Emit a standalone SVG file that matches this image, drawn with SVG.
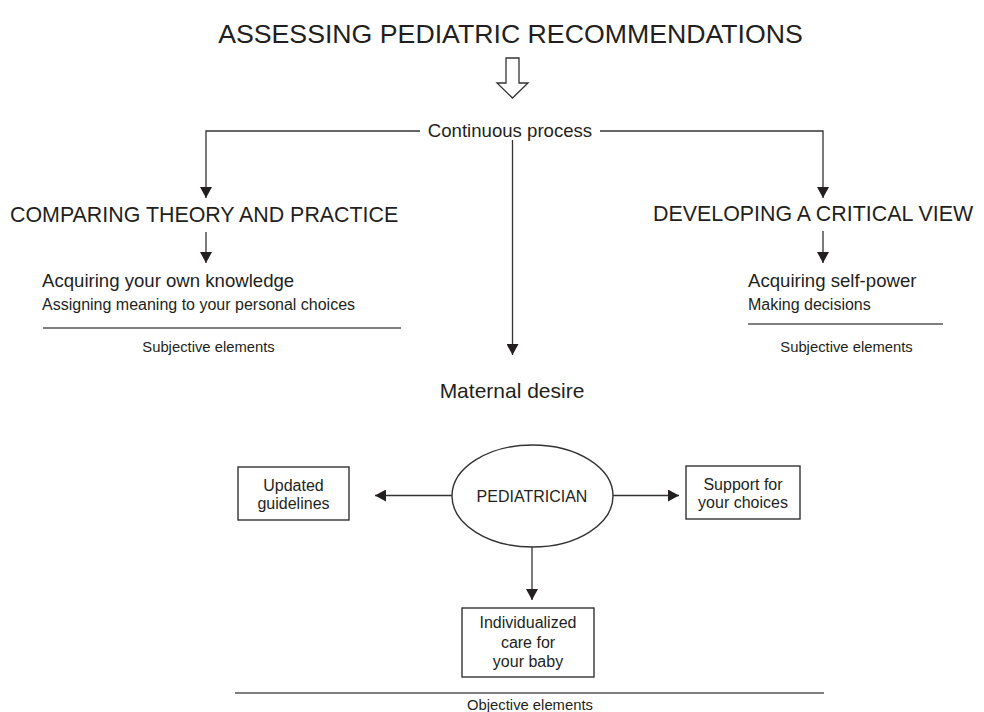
<svg xmlns="http://www.w3.org/2000/svg" width="984" height="712" viewBox="0 0 984 712">
<defs>
<style>
text{font-family:"Liberation Sans",Arial,Helvetica,sans-serif;fill:#231f20;}
.c{text-anchor:middle;}
.h1{font-size:26.7px;}
.h2{font-size:21.4px;}
.h3{font-size:18.6px;}
.t16{font-size:16px;}
.t15{font-size:14.8px;}
.ln{stroke:#333;stroke-width:1.3;fill:none;}
.sep{stroke:#555;stroke-width:1.6;fill:none;}
.box{stroke:#333;stroke-width:1.4;fill:#fff;}
</style>
<marker id="ah" markerUnits="userSpaceOnUse" markerWidth="12" markerHeight="12" refX="11" refY="6" orient="auto">
<path d="M0,0 L11,6 L0,12 z" fill="#231f20"/>
</marker>
</defs>
<rect width="984" height="712" fill="#fff"/>

<g id="title">
<text class="h1 c" x="510.5" y="43">ASSESSING PEDIATRIC RECOMMENDATIONS</text>
<polygon points="506,58 519,58 519,83 528,83 512.5,98 497,83 506,83" fill="#fff" stroke="#333" stroke-width="1.3"/>
</g>

<g id="continuous">
<text class="h3 c" x="510" y="137">Continuous process</text>
</g>

<g id="connectors">
<path class="ln" d="M420,131 H206 V198" marker-end="url(#ah)"/>
<path class="ln" d="M600,131 H823 V198" marker-end="url(#ah)"/>
<path class="ln" d="M512.5,140 V355" marker-end="url(#ah)"/>
<path class="ln" d="M206,232 V263" marker-end="url(#ah)"/>
<path class="ln" d="M823,231 V263" marker-end="url(#ah)"/>
<path class="ln" d="M452,495.5 H375" marker-end="url(#ah)"/>
<path class="ln" d="M613,495.5 H679" marker-end="url(#ah)"/>
<path class="ln" d="M532,547 V600" marker-end="url(#ah)"/>
</g>

<g id="left-branch">
<text class="h2" x="10" y="222">COMPARING THEORY AND PRACTICE</text>
<text class="h3" x="42" y="287">Acquiring your own knowledge</text>
<text class="t16" x="42" y="310">Assigning meaning to your personal choices</text>
<line class="sep" x1="43" y1="328" x2="401" y2="328"/>
<text class="t15 c" x="208.5" y="352">Subjective elements</text>
</g>

<g id="right-branch">
<text class="h2" x="653" y="221">DEVELOPING A CRITICAL VIEW</text>
<text class="h3" x="748" y="287">Acquiring self-power</text>
<text class="t16" x="748" y="310">Making decisions</text>
<line class="sep" x1="748" y1="324" x2="943" y2="324"/>
<text class="t15 c" x="846.5" y="352">Subjective elements</text>
</g>

<g id="maternal">
<text class="c" style="font-size:21px" x="512" y="398">Maternal desire</text>
</g>

<g id="pediatrician">
<ellipse class="box" cx="532.5" cy="496" rx="80.5" ry="51"/>
<text class="t16 c" x="532" y="502">PEDIATRICIAN</text>
</g>

<g id="guidelines">
<rect class="box" x="238" y="467" width="111" height="53"/>
<text class="t16 c" x="293.5" y="491">Updated</text>
<text class="t16 c" x="293.5" y="509">guidelines</text>
</g>

<g id="support">
<rect class="box" x="686" y="466" width="114" height="53"/>
<text class="t16 c" x="743" y="490">Support for</text>
<text class="t16 c" x="743" y="508">your choices</text>
</g>

<g id="care">
<rect class="box" x="462" y="608" width="132" height="69"/>
<text class="t16 c" x="528" y="628">Individualized</text>
<text class="t16 c" x="528" y="648">care for</text>
<text class="t16 c" x="528" y="667">your baby</text>
</g>

<g id="objective">
<line class="sep" x1="235" y1="693" x2="824" y2="693"/>
<text class="t15 c" x="530" y="710">Objective elements</text>
</g>
</svg>
